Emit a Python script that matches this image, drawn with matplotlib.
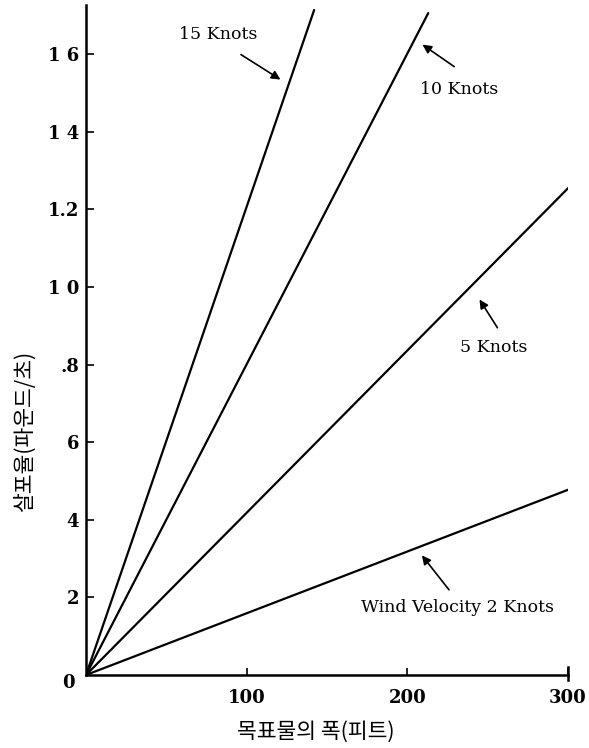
import matplotlib.pyplot as plt

# chart values (rate vs target width, one line per wind speed)
wind_knots = [15, 10, 5, 2]
width_end = [142, 213, 302, 301]          # feet where each line stops
rate_end = [1.714, 1.706, 1.263, 0.479]   # rate at that width
line_labels = ["15 Knots", "10 Knots", "5 Knots", "Wind Velocity 2 Knots"]

y_ticks = [0.2, 0.4, 0.6, 0.8, 1.0, 1.2, 1.4, 1.6]
y_tick_labels = ["2", "4", "6", ".8", "1 0", "1.2", "1 4", "1 6"]
x_ticks = [100, 200, 300]
x_tick_labels = ["100", "200", "300"]

serif = "DejaVu Serif"
kr = ["Noto Sans CJK KR", "DejaVu Sans"]

fig = plt.figure(figsize=(5.89, 7.48), dpi=100)
ax = fig.add_axes([86 / 589, 1 - 675 / 748, (568 - 86) / 589, (675 - 5) / 748])

for xe, ye in zip(width_end, rate_end):
    ax.plot([0, xe], [0, ye], color="black", lw=1.6, solid_capstyle="round")

ax.set_xlim(0, 300)
ax.set_ylim(0, 1.727)
ax.spines[["top", "right"]].set_visible(False)
ax.spines[["left", "bottom"]].set_linewidth(1.8)

ax.set_yticks(y_ticks)
ax.set_yticklabels(y_tick_labels, fontfamily=serif, fontweight="bold", fontsize=13)
ax.set_xticks(x_ticks)
ax.set_xticklabels(x_tick_labels, fontfamily=serif, fontweight="bold", fontsize=13)
ax.tick_params(axis="y", direction="in", length=6, width=1.2, pad=5)
ax.tick_params(axis="x", direction="in", length=5, width=1.2, pad=10)
# end marker at 300 crosses the axis
ax.plot([300, 300], [-0.012, 0.02], color="black", lw=1.8, clip_on=False)

# the corner "0"
ax.text(-18 / 1.607, -0.02, "0", fontfamily=serif, fontweight="bold", fontsize=13,
        ha="center", va="center")

ax.set_ylabel("살포율(파운드/초)", fontfamily=kr, fontsize=15.5)
ax.yaxis.set_label_coords(-0.104, 0.363)
ax.set_xlabel("목표물의 폭(피트)", fontfamily=kr, fontsize=15.5)
ax.xaxis.set_label_coords(0.477, -0.068)

arrow = dict(arrowstyle="-|>", color="black", lw=1.2, mutation_scale=13)
txt = dict(fontfamily=serif, fontsize=12.5, ha="center", va="center")

# (text position, arrow tail, arrow head) for each label
ax.text(82, 1.65, line_labels[0], **txt)
ax.annotate("", xy=(122.5, 1.531), xytext=(95, 1.603), arrowprops=arrow)

ax.text(232, 1.508, line_labels[1], **txt)
ax.annotate("", xy=(208, 1.629), xytext=(230.6, 1.564), arrowprops=arrow)

ax.text(254, 0.843, line_labels[2], **txt)
ax.annotate("", xy=(244, 0.974), xytext=(257, 0.889), arrowprops=arrow)

ax.text(231, 0.173, line_labels[3], **txt)
ax.annotate("", xy=(208, 0.314), xytext=(227, 0.214), arrowprops=arrow)

fig.savefig("out.png", dpi=100)
